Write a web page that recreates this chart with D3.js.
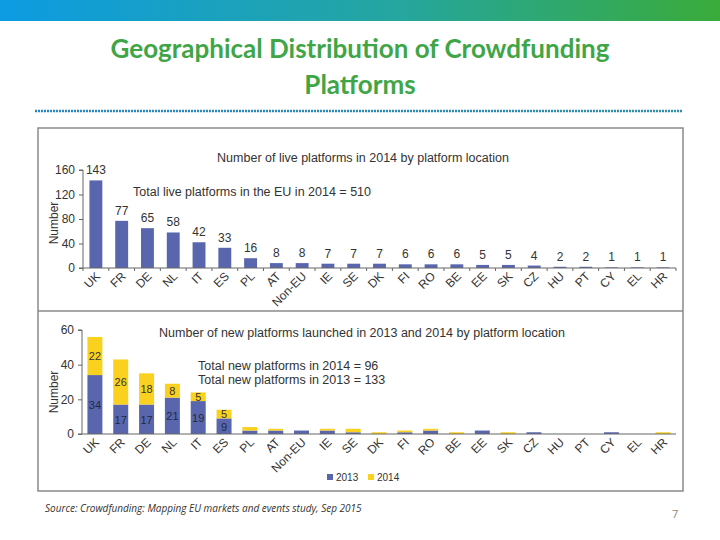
<!DOCTYPE html>
<html><head><meta charset="utf-8">
<script src="https://cdn.jsdelivr.net/npm/d3@7"></script>
<style>body{margin:0;background:#fff}svg{display:block}</style>
</head><body>
<script>
const categories = ["UK","FR","DE","NL","IT","ES","PL","AT","Non-EU","IE","SE","DK","FI","RO","BE","EE","SK","CZ","HU","PT","CY","EL","HR"];
const live2014 = [143,77,65,58,42,33,16,8,8,7,7,7,6,6,6,5,5,4,2,2,1,1,1];
const new2013 = [34,17,17,21,19,9,2,2,2,2,1,0,1,2,0,2,0,1,0,0,1,0,0];
const new2014 = [22,26,18,8,5,5,2,1,0,1,2,1,1,1,1,0,1,0,0,0,0,0,1];
const topTicks = [0,40,80,120,160];
const botTicks = [0,20,40,60];
const labelledCount = 6;

const W=720,H=540;
const svg=d3.select("body").append("svg").attr("width",W).attr("height",H);
const defs=svg.append("defs");
const g1=defs.append("linearGradient").attr("id","hdr");
g1.append("stop").attr("offset","0%").attr("stop-color","#0d9be2");
g1.append("stop").attr("offset","55%").attr("stop-color","#25a6a0");
g1.append("stop").attr("offset","100%").attr("stop-color","#3aab3a");
const g2=defs.append("linearGradient").attr("id","dots").attr("gradientUnits","userSpaceOnUse")
  .attr("x1",35).attr("x2",683).attr("y1",0).attr("y2",0);
g2.append("stop").attr("offset","0%").attr("stop-color","#2a86c2");
g2.append("stop").attr("offset","100%").attr("stop-color","#2e8fa6");

svg.append("rect").attr("x",0).attr("y",0).attr("width",W).attr("height",21).attr("fill","url(#hdr)");
const title=svg.append("text").attr("text-anchor","middle").attr("fill","#3fa648")
  .attr("font-family","Lato, 'Open Sans', sans-serif").attr("font-weight","bold").attr("font-size",26);
title.append("tspan").attr("x",360).attr("y",58).text("Geographical Distribution of Crowdfunding");
title.append("tspan").attr("x",360).attr("y",94).text("Platforms");
svg.append("line").attr("x1",35).attr("x2",683).attr("y1",111).attr("y2",111)
  .attr("stroke","url(#dots)").attr("stroke-width",2.5).attr("stroke-dasharray","2,1");

// frame
svg.append("rect").attr("x",38).attr("y",128).attr("width",645).attr("height",363)
  .attr("fill","none").attr("stroke","#8a8a8a").attr("stroke-width",1.5);
svg.append("line").attr("x1",38).attr("x2",683).attr("y1",311).attr("y2",311).attr("stroke","#8a8a8a").attr("stroke-width",1.5);

const font="'Liberation Sans', Arial, sans-serif";
const blue="#5966ad", yellow="#fbd11f", txt="#333";

// ---------- top chart ----------
const xT=d3.scaleBand().domain(categories).range([83,676]).paddingInner(0.5).paddingOuter(0.25);
const yT=d3.scaleLinear().domain([0,160]).range([268,170]);
const topG=svg.append("g");
topG.selectAll("rect.bar").data(categories).join("rect").attr("class","bar")
  .attr("x",d=>xT(d)).attr("width",xT.bandwidth())
  .attr("y",(d,i)=>yT(live2014[i])).attr("height",(d,i)=>yT(0)-yT(live2014[i])).attr("fill",blue);
topG.selectAll("text.val").data(categories).join("text").attr("class","val")
  .attr("x",d=>xT(d)+xT.bandwidth()/2).attr("y",(d,i)=>yT(live2014[i])-6)
  .attr("text-anchor","middle").attr("font-family",font).attr("font-size",12).attr("fill",txt)
  .text((d,i)=>live2014[i]);
const ayT=topG.append("g").attr("transform","translate(83,0)")
  .call(d3.axisLeft(yT).tickValues(topTicks).tickSize(4).tickPadding(4));
ayT.select(".domain").attr("stroke","#666").attr("d","M-4,"+yT(160)+"H0V"+yT(0)+"H-4");
ayT.selectAll(".tick line").attr("stroke","#666");
ayT.selectAll("text").attr("font-family",font).attr("font-size",12).attr("fill",txt);
topG.append("line").attr("x1",83).attr("x2",676).attr("y1",yT(0)).attr("y2",yT(0)).attr("stroke","#666");
topG.selectAll("line.xt").data(categories.concat(["_end"])).join("line").attr("class","xt")
  .attr("x1",(d,i)=>83+i*xT.step()).attr("x2",(d,i)=>83+i*xT.step())
  .attr("y1",yT(0)).attr("y2",yT(0)+3).attr("stroke","#666");
topG.selectAll("text.cat").data(categories).join("text").attr("class","cat")
  .attr("transform",d=>`translate(${xT(d)+xT.bandwidth()/2+5},${yT(0)+9}) rotate(-45)`)
  .attr("text-anchor","end").attr("font-family",font).attr("font-size",12).attr("fill",txt).text(d=>d);
topG.append("text").attr("transform",`translate(58,${(yT(0)+yT(160))/2+4}) rotate(-90)`)
  .attr("text-anchor","middle").attr("font-family",font).attr("font-size",12).attr("fill",txt).text("Number");
topG.append("text").attr("x",363).attr("y",162).attr("text-anchor","middle").attr("font-family",font)
  .attr("font-size",12.5).attr("fill",txt).text("Number of live platforms in 2014 by platform location");
topG.append("text").attr("x",133).attr("y",196).attr("font-family",font)
  .attr("font-size",12.5).attr("fill",txt).text("Total live platforms in the EU in 2014  = 510");

// ---------- bottom chart ----------
const xB=d3.scaleBand().domain(categories).range([82,676]).paddingInner(0.42).paddingOuter(0.21);
const yB=d3.scaleLinear().domain([0,60]).range([434,330]);
const bot=svg.append("g");
bot.selectAll("rect.b13").data(categories).join("rect").attr("class","b13")
  .attr("x",d=>xB(d)).attr("width",xB.bandwidth())
  .attr("y",(d,i)=>yB(new2013[i])).attr("height",(d,i)=>yB(0)-yB(new2013[i])).attr("fill",blue);
bot.selectAll("rect.b14").data(categories).join("rect").attr("class","b14")
  .attr("x",d=>xB(d)).attr("width",xB.bandwidth())
  .attr("y",(d,i)=>yB(new2013[i]+new2014[i])).attr("height",(d,i)=>yB(0)-yB(new2014[i])).attr("fill",yellow);
const lab=categories.slice(0,labelledCount);
bot.selectAll("text.l13").data(lab).join("text").attr("class","l13")
  .attr("x",d=>xB(d)+xB.bandwidth()/2).attr("y",(d,i)=>yB(new2013[i]/2)+4.5)
  .attr("text-anchor","middle").attr("font-family",font).attr("font-size",11).attr("fill","#1f2a44")
  .text((d,i)=>new2013[i]);
bot.selectAll("text.l14").data(lab).join("text").attr("class","l14")
  .attr("x",d=>xB(d)+xB.bandwidth()/2).attr("y",(d,i)=>yB(new2013[i]+new2014[i]/2)+4)
  .attr("text-anchor","middle").attr("font-family",font).attr("font-size",11).attr("fill","#333")
  .text((d,i)=>new2014[i]);
const ayB=bot.append("g").attr("transform","translate(82,0)")
  .call(d3.axisLeft(yB).tickValues(botTicks).tickSize(4).tickPadding(4));
ayB.select(".domain").attr("stroke","#666").attr("d","M-4,"+yB(60)+"H0V"+yB(0)+"H-4");
ayB.selectAll(".tick line").attr("stroke","#666");
ayB.selectAll("text").attr("font-family",font).attr("font-size",12).attr("fill",txt);
bot.append("line").attr("x1",82).attr("x2",676).attr("y1",yB(0)).attr("y2",yB(0)).attr("stroke","#666");
bot.selectAll("text.cat").data(categories).join("text").attr("class","cat")
  .attr("transform",d=>`translate(${xB(d)+xB.bandwidth()/2+5},${yB(0)+9}) rotate(-45)`)
  .attr("text-anchor","end").attr("font-family",font).attr("font-size",12).attr("fill",txt).text(d=>d);
bot.append("text").attr("transform",`translate(58,${(yB(0)+yB(60))/2+10}) rotate(-90)`)
  .attr("text-anchor","middle").attr("font-family",font).attr("font-size",12).attr("fill",txt).text("Number");
bot.append("text").attr("x",362).attr("y",337).attr("text-anchor","middle").attr("font-family",font)
  .attr("font-size",12.5).attr("fill",txt).text("Number of new platforms launched in 2013 and 2014 by platform location");
bot.append("text").attr("x",198).attr("y",370).attr("font-family",font)
  .attr("font-size",12.5).attr("fill",txt).text("Total new platforms in 2014 = 96");
bot.append("text").attr("x",198).attr("y",384).attr("font-family",font)
  .attr("font-size",12.5).attr("fill",txt).text("Total new platforms in 2013 = 133");
const leg=[["2013",blue,327],["2014",yellow,368]];
leg.forEach(([t,c,x])=>{
  bot.append("rect").attr("x",x).attr("y",474).attr("width",6).attr("height",6).attr("fill",c);
  bot.append("text").attr("x",x+9).attr("y",481).attr("font-family",font).attr("font-size",10).attr("fill",txt).text(t);
});

svg.append("text").attr("x",45).attr("y",512).attr("font-family","'Open Sans', sans-serif").attr("font-style","italic")
  .attr("font-size",10).attr("fill","#333").text("Source: Crowdfunding: Mapping EU markets and events study, Sep 2015");
svg.append("text").attr("x",672).attr("y",518).attr("font-family","'Open Sans', sans-serif")
  .attr("font-size",11).attr("fill","#888").text("7");
</script>
</body></html>
